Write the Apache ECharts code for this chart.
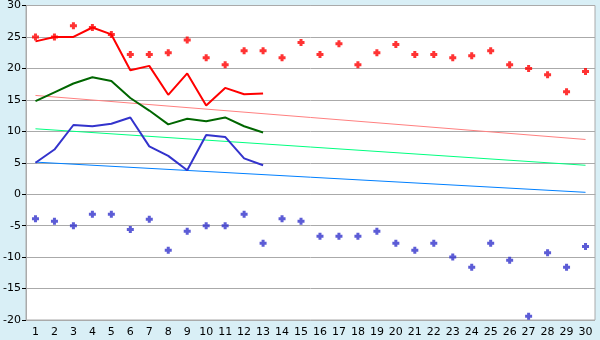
<!DOCTYPE html>
<html><head><meta charset="utf-8">
<script src="https://cdn.jsdelivr.net/npm/echarts@6/dist/echarts.min.js"></script>
<style>html,body{margin:0;padding:0;background:#d9eff6;}#c{width:600px;height:340px;}</style>
</head><body><div id="c"></div>
<script>
var days = [];
for (var i = 1; i <= 30; i++) days.push(String(i));
var maxLine = [24.3,25.0,25.0,26.5,25.4,19.7,20.4,15.8,19.2,14.1,16.9,15.9,16.0];
var avgLine = [14.8,16.2,17.6,18.6,18.0,15.3,13.3,11.1,12.0,11.6,12.2,10.8,9.8];
var minLine = [5.0,7.1,11.0,10.8,11.2,12.2,7.6,6.1,3.8,9.4,9.1,5.7,4.6];
var maxRecord = [25.0,25.0,26.8,26.5,25.4,22.2,22.2,22.5,24.5,21.7,20.6,22.8,22.8,21.7,24.1,22.2,23.9,20.6,22.5,23.8,22.2,22.2,21.7,22.0,22.8,20.6,20.0,19.0,16.3,19.5];
var minRecord = [-3.9,-4.3,-5.0,-3.2,-3.2,-5.6,-4.0,-8.9,-5.9,-5.0,-5.0,-3.2,-7.8,-3.9,-4.3,-6.7,-6.7,-6.7,-5.9,-7.8,-8.9,-7.8,-10.0,-11.6,-7.8,-10.5,-19.4,-9.3,-11.6,-8.3];
var normMax = [[0,15.7],[29,8.7]];
var normAvg = [[0,10.4],[29,4.6]];
var normMin = [[0,5.1],[29,0.3]];
var yTicks = {min:-20, max:30, interval:5};

var cross = 'path://M2,0H5V2H7V5H5V7H2V5H0V2H2Z';
var chart = echarts.init(document.getElementById('c'));
chart.setOption({
  animation:false,
  backgroundColor:'#d9eff6',
  grid:{left:26,right:5,top:5,bottom:20,show:true,backgroundColor:'#fff',borderColor:'#aaa',borderWidth:1},
  xAxis:{type:'category',data:days,boundaryGap:true,
    axisLine:{lineStyle:{color:'#aaa'}},
    axisTick:{alignWithLabel:true,length:5,lineStyle:{color:'#000'}},
    axisLabel:{color:'#000',fontFamily:'DejaVu Sans',fontSize:11,margin:7,interval:0},
    splitLine:{show:false}},
  yAxis:{type:'value',min:yTicks.min,max:yTicks.max,interval:yTicks.interval,
    axisLine:{show:true,lineStyle:{color:'#aaa'}},
    axisTick:{show:true,length:4,lineStyle:{color:'#000'}},
    axisLabel:{color:'#000',fontFamily:'DejaVu Sans',fontSize:11,margin:5},
    splitLine:{lineStyle:{color:'#aaa',width:1}}},
  series:[
    {type:'line',data:normMax,symbol:'none',lineStyle:{color:'#ff8080',width:1},z:2},
    {type:'line',data:normAvg,symbol:'none',lineStyle:{color:'#00ff80',width:1},z:2},
    {type:'line',data:normMin,symbol:'none',lineStyle:{color:'#0080ff',width:1},z:2},
    {type:'line',data:maxLine,symbol:'none',lineStyle:{color:'#ff0000',width:2},z:3},
    {type:'line',data:avgLine,symbol:'none',lineStyle:{color:'#006600',width:2},z:3},
    {type:'line',data:minLine,symbol:'none',lineStyle:{color:'#3333cc',width:2},z:3},
    {type:'scatter',data:maxRecord,symbol:cross,symbolSize:7,itemStyle:{color:'#ff0000'},z:4},
    {type:'scatter',data:minRecord,symbol:cross,symbolSize:7,itemStyle:{color:'#3333cc'},z:4}
  ]
});
</script></body></html>
